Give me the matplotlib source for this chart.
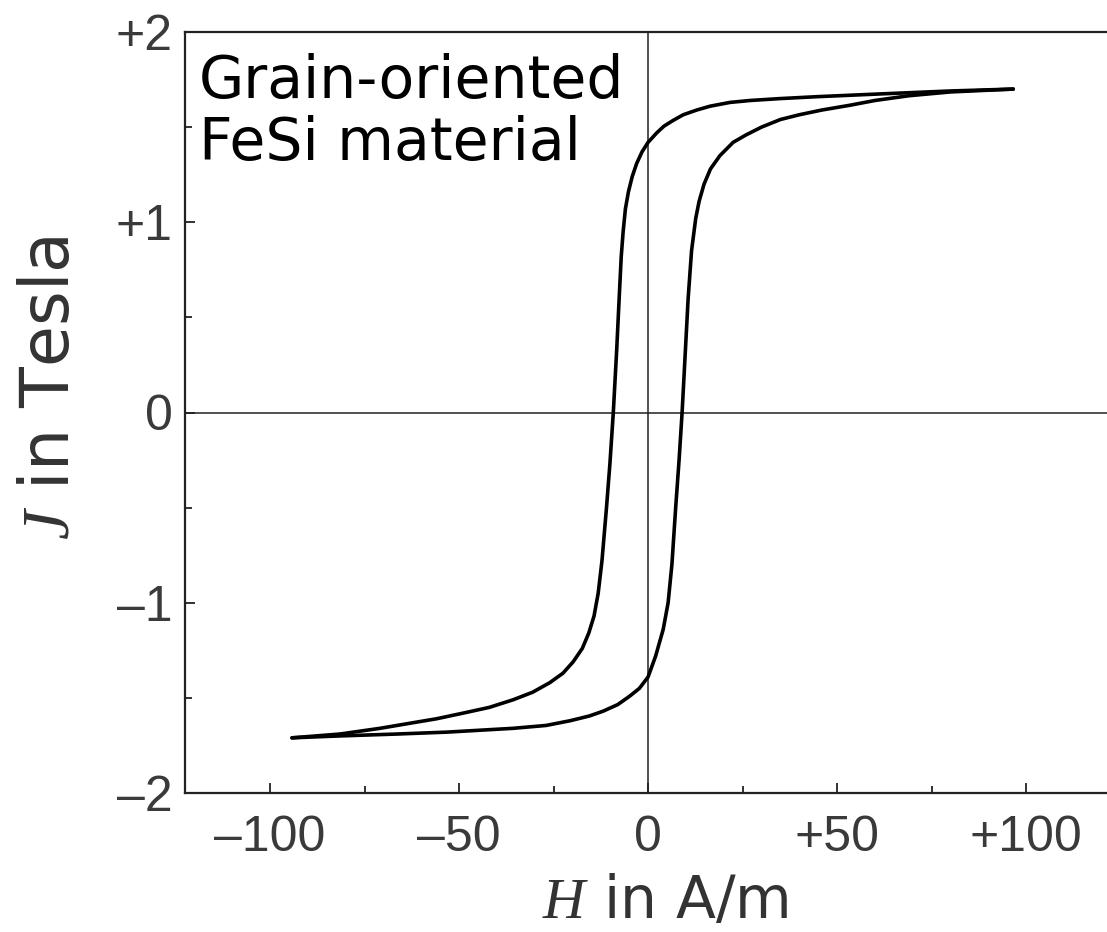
import matplotlib
matplotlib.use("Agg")
import matplotlib.pyplot as plt
from matplotlib.ticker import FixedLocator


# ==============================
# Data (H in A/m, J in Tesla)
# ==============================

# descending branch: from positive tip down to negative tip
h_down = [96.6, 80.0, 62.0, 44.7, 34.9, 27.0, 21.7, 16.4, 12.9, 9.3, 6.6, 4.2, 2.3, 0.0,
          -1.6, -3.0, -4.2, -5.2, -6.0, -6.6, -7.1, -7.6, -8.3, -9.2, -10.1, -11.0,
          -12.2, -13.2, -14.3, -15.7, -17.4, -19.8, -22.5, -26.0, -30.5, -35.7,
          -42.0, -48.9, -56.0, -62.0, -70.9, -81.5, -94.2]
j_down = [1.70, 1.69, 1.675, 1.66, 1.65, 1.64, 1.63, 1.61, 1.59, 1.565, 1.535, 1.505, 1.47, 1.42,
          1.37, 1.31, 1.24, 1.16, 1.07, 0.95, 0.82, 0.62, 0.33, 0.0, -0.27, -0.50,
          -0.78, -0.95, -1.07, -1.16, -1.24, -1.31, -1.37, -1.42, -1.47, -1.51,
          -1.55, -1.58, -1.61, -1.63, -1.66, -1.69, -1.71]

# ascending branch: from negative tip up to positive tip
h_up = [-94.2, -81.5, -66.4, -53.2, -35.7, -27.0, -20.6, -15.5, -11.9, -8.0, -4.8,
        -2.3, 0.0, 2.0, 4.0, 5.3, 6.3, 7.3, 8.2, 9.0, 9.8, 10.6, 11.5, 12.6, 13.5,
        14.8, 16.5, 19.0, 22.5, 26.0, 30.0, 35.0, 40.0, 46.0, 53.4, 60.0, 69.0,
        80.0, 96.6]
j_up = [-1.71, -1.70, -1.69, -1.68, -1.66, -1.645, -1.62, -1.595, -1.57, -1.535, -1.49,
        -1.45, -1.39, -1.28, -1.14, -1.0, -0.80, -0.50, -0.25, 0.0, 0.30, 0.60, 0.85, 1.02,
        1.11, 1.20, 1.28, 1.35, 1.42, 1.46, 1.50, 1.54, 1.565, 1.59, 1.615, 1.64,
        1.665, 1.685, 1.70]

x_ticks = [-100, -50, 0, 50, 100]
x_tick_labels = ["\u2013100", "\u201350", "0", "+50", "+100"]
x_minor = [-75, -25, 25, 75]
y_ticks = [-2, -1, 0, 1, 2]
y_tick_labels = ["\u20132", "\u20131", "0", "+1", "+2"]
y_minor = [-1.5, -0.5, 0.5, 1.5]


# ==============================
# Figure
# ==============================

plt.rcParams["mathtext.fontset"] = "custom"
plt.rcParams["mathtext.it"] = "Liberation Serif:italic"
plt.rcParams["mathtext.rm"] = "DejaVu Sans"

W, H = 1107, 932
fig = plt.figure(figsize=(W / 100, H / 100), dpi=100)
ax = fig.add_axes([185 / W, (H - 793) / H, 1 - 185 / W, (793 - 32) / H])

ax.plot(h_down, j_down, color="black", lw=2.6, solid_capstyle="round",
        solid_joinstyle="round", zorder=3)
ax.plot(h_up, j_up, color="black", lw=2.6, solid_capstyle="round",
        solid_joinstyle="round", zorder=3)

ax.axhline(0, color="#222222", lw=1.1, zorder=2)
ax.axvline(0, color="#222222", lw=1.1, zorder=2)

ax.set_xlim(-122.5, 121.4)
ax.set_ylim(-2, 2)

ax.spines["right"].set_visible(False)
for side in ["left", "bottom", "top"]:
    ax.spines[side].set_linewidth(1.6)
    ax.spines[side].set_color("#222222")

ax.set_xticks(x_ticks)
ax.set_xticklabels(x_tick_labels)
ax.set_yticks(y_ticks)
ax.set_yticklabels(y_tick_labels)
ax.xaxis.set_minor_locator(FixedLocator(x_minor))
ax.yaxis.set_minor_locator(FixedLocator(y_minor))

ax.tick_params(axis="both", which="major", direction="in", length=7, width=1.3,
               color="#222222", labelsize=36, labelcolor="#3a3a3a")
ax.tick_params(axis="both", which="minor", direction="in", length=5, width=1.3,
               color="#222222")
ax.tick_params(axis="x", pad=16)
ax.tick_params(axis="y", pad=9)
for lbl in ax.get_xticklabels() + ax.get_yticklabels():
    lbl.set_fontfamily("Liberation Sans")

ax.text(0.015, 0.972, "Grain-oriented\nFeSi material",
        transform=ax.transAxes, ha="left", va="top", fontsize=42,
        fontfamily="DejaVu Sans", linespacing=1.1, color="black", zorder=4)

fig.text(665 / W, 1 - 918 / H, r"$H$ in A/m", ha="center", va="baseline",
         fontsize=42, fontfamily="DejaVu Sans", color="#333333")
fig.text(50 / W, 1 - 388 / H, r"$J$ in Tesla", ha="center", va="center",
         rotation=90, fontsize=48, fontfamily="DejaVu Sans", color="#333333")

fig.savefig("out.png", dpi=100)
